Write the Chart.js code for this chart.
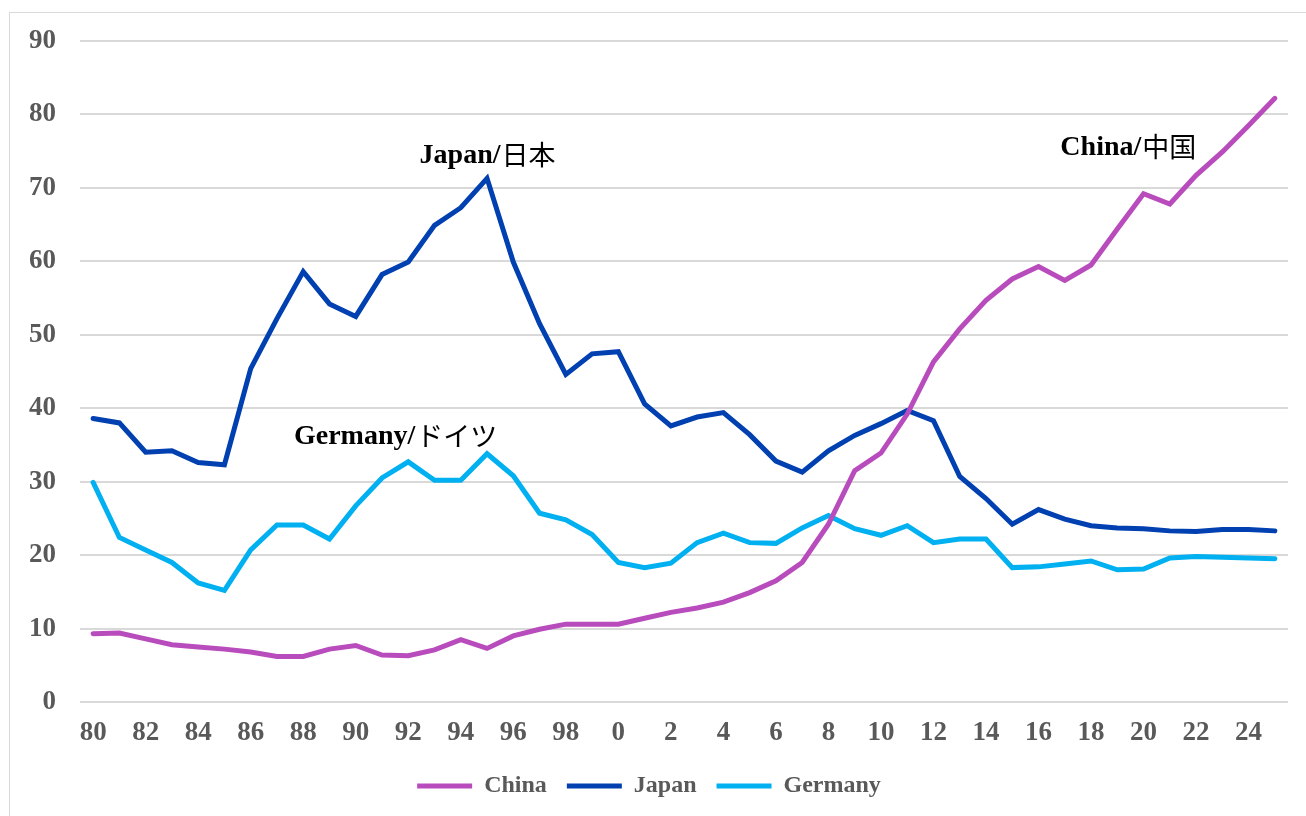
<!DOCTYPE html>
<html>
<head>
<meta charset="utf-8">
<script src="https://cdn.jsdelivr.net/npm/chart.js@4.4.1/dist/chart.umd.min.js"></script>
<style>
    body { margin: 0; overflow: hidden; background: #fff; }
    #wrap { position: relative; width: 1306px; height: 816px; }
    #frame { position: absolute; left: 9px; top: 12px; width: 1320px; height: 830px; border: 1px solid #d9d9d9; }
    canvas { position: absolute; left: 0; top: 0; }
</style>
</head>
<body>
<div id="wrap">
    <div id="frame"></div>
    <canvas id="shareChart" width="1306" height="816"></canvas>
</div>
<script>
// Years 1980-2025, shown as two-digit labels
const years = ['80','81','82','83','84','85','86','87','88','89',
               '90','91','92','93','94','95','96','97','98','99',
               '0','1','2','3','4','5','6','7','8','9',
               '10','11','12','13','14','15','16','17','18','19',
               '20','21','22','23','24','25'];

const china = [9.3, 9.4, 8.6, 7.8, 7.5, 7.2, 6.8, 6.2, 6.2, 7.2,
               7.7, 6.4, 6.3, 7.1, 8.5, 7.3, 9.0, 9.9, 10.6, 10.6,
               10.6, 11.4, 12.2, 12.8, 13.6, 14.9, 16.5, 19.0, 24.2, 31.5,
               33.9, 39.2, 46.3, 50.8, 54.7, 57.6, 59.3, 57.4, 59.5, 64.4,
               69.2, 67.8, 71.7, 74.9, 78.5, 82.2];

const japan = [38.6, 38.0, 34.0, 34.2, 32.6, 32.3, 45.4, 52.2, 58.6, 54.2,
               52.5, 58.2, 59.9, 64.9, 67.3, 71.3, 59.9, 51.5, 44.6, 47.4,
               47.7, 40.6, 37.6, 38.8, 39.4, 36.4, 32.8, 31.3, 34.2, 36.3,
               37.9, 39.7, 38.3, 30.7, 27.7, 24.2, 26.2, 24.9, 24.0, 23.7,
               23.6, 23.3, 23.2, 23.5, 23.5, 23.3];

const germany = [29.9, 22.4, 20.7, 19.0, 16.2, 15.2, 20.7, 24.1, 24.1, 22.2,
                 26.7, 30.5, 32.7, 30.2, 30.2, 33.8, 30.8, 25.7, 24.8, 22.8,
                 19.0, 18.3, 18.9, 21.7, 23.0, 21.7, 21.6, 23.7, 25.4, 23.6,
                 22.7, 24.0, 21.7, 22.2, 22.2, 18.3, 18.4, 18.8, 19.2, 18.0,
                 18.1, 19.6, 19.8, 19.7, 19.6, 19.5];

const yTicks = [0, 10, 20, 30, 40, 50, 60, 70, 80, 90];

// Series labels drawn inside the plot: latin part, CJK part, anchor (x index, y value)
const seriesNotes = [
    { latin: 'Japan/', cjk: '日本', x: 15, y: 74.4 },
    { latin: 'China/', cjk: '中国', x: 39.4, y: 75.5 },
    { latin: 'Germany/', cjk: 'ドイツ', x: 11.5, y: 36.1 }
];

const serif = "'Liberation Serif', 'Times New Roman', serif";
const gray = '#595959';

function lineSet(label, data, color) {
    return {
        label: label,
        data: data,
        borderColor: color,
        backgroundColor: color,
        borderWidth: 5,
        borderCapStyle: 'round',
        borderJoinStyle: 'miter',
        pointRadius: 0,
        pointHoverRadius: 0,
        tension: 0,
        fill: false
    };
}

// Draw the in-plot series names
const notesPlugin = {
    id: 'seriesNotes',
    afterDatasetsDraw(chart) {
        const ctx = chart.ctx;
        const xs = chart.scales.x;
        const ys = chart.scales.y;
        ctx.save();
        ctx.fillStyle = '#000';
        ctx.textBaseline = 'middle';
        ctx.textAlign = 'left';
        seriesNotes.forEach(n => {
            const cx = xs.getPixelForValue(n.x);
            const cy = ys.getPixelForValue(n.y);
            const latinFont = 'bold 28px ' + serif;
            const cjkFont = "400 27px 'Noto Sans CJK JP'";
            ctx.font = latinFont;
            const w1 = ctx.measureText(n.latin).width;
            ctx.font = cjkFont;
            const w2 = ctx.measureText(n.cjk).width;
            const left = cx - (w1 + w2) / 2;
            ctx.font = latinFont;
            ctx.fillText(n.latin, left, cy);
            ctx.font = cjkFont;
            ctx.fillText(n.cjk, left + w1 + 1, cy - 1);
        });
        ctx.restore();
    }
};

const ctx = document.getElementById('shareChart').getContext('2d');
const shareChart = new Chart(ctx, {
    type: 'line',
    data: {
        labels: years,
        datasets: [
            lineSet('China', china, '#B94CBD'),
            lineSet('Japan', japan, '#0040B0'),
            lineSet('Germany', germany, '#00B0F0')
        ]
    },
    options: {
        responsive: false,
        animation: false,
        layout: { padding: { left: 10, right: 18, top: 41, bottom: 8 } },
        plugins: {
            legend: {
                position: 'bottom',
                labels: {
                    usePointStyle: true,
                    pointStyle: 'line',
                    pointStyleWidth: 55,
                    boxHeight: 5,
                    padding: 20,
                    color: gray,
                    font: { family: serif, size: 24, weight: 'bold' }
                }
            },
            tooltip: { enabled: false }
        },
        scales: {
            x: {
                type: 'category',
                offset: true,
                grid: { display: false, drawTicks: false },
                border: { display: false },
                ticks: {
                    autoSkip: false,
                    maxRotation: 0,
                    padding: 15,
                    color: gray,
                    font: { family: serif, size: 27, weight: 'bold' },
                    callback: function(value, index) {
                        return index % 2 === 0 ? years[index] : '';
                    }
                },
                afterFit: function(scale) { scale.height = 52; }
            },
            y: {
                min: 0,
                max: 90,
                grid: { color: '#d9d9d9', lineWidth: 2, drawTicks: false },
                border: { display: false },
                ticks: {
                    stepSize: 10,
                    padding: 24,
                    color: gray,
                    font: { family: serif, size: 27, weight: 'bold' }
                },
                afterBuildTicks: function(scale) {
                    scale.ticks = yTicks.map(v => ({ value: v }));
                },
                afterFit: function(scale) { scale.width = 70; }
            }
        }
    },
    plugins: [notesPlugin]
});
</script>
</body>
</html>
